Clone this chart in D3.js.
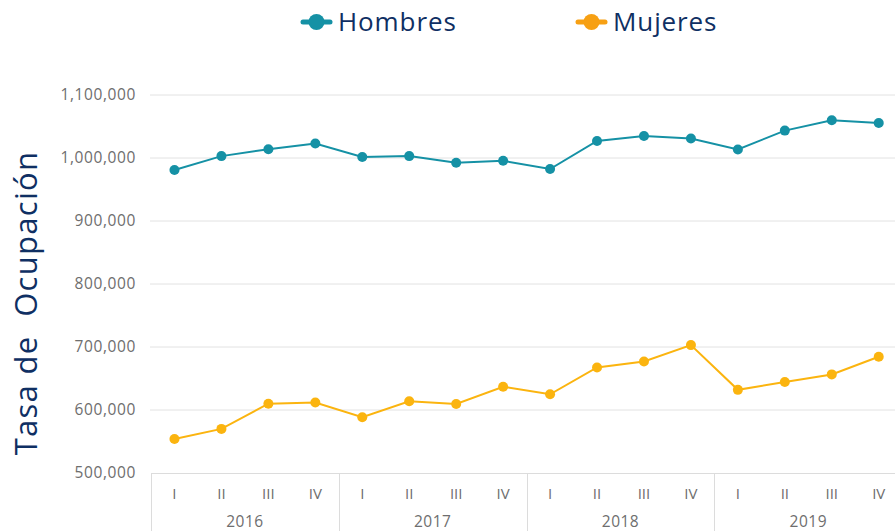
<!DOCTYPE html>
<html>
<head>
  <script src="https://d3js.org/d3.v7.min.js"></script>
  <style>
    body { margin: 0; background: #fff; }
    text { font-family: "Open Sans", sans-serif; }
  </style>
</head>
<body>
  <div id="chart"></div>
  <script>
    var years = ["2016", "2017", "2018", "2019"];
    var quarters = ["I", "II", "III", "IV"];
    var hombres = [981000, 1003000, 1014000, 1023000, 1001500, 1003000, 992500, 995500,
                   982500, 1027000, 1035000, 1031000, 1013500, 1043500, 1060000, 1055500];
    var mujeres = [554000, 570000, 610000, 612000, 588500, 614000, 609500, 637000,
                   625000, 667500, 677000, 703000, 632000, 644500, 656500, 684500];
    var yTicks = [500000, 600000, 700000, 800000, 900000, 1000000, 1100000];

    var colH = "#1591a5", colM = "#fbb40f", colMLegend = "#f7a013", navy = "#0f2f63";
    var grey = "#6e6e6e";

    // one entry per quarter
    var cats = [];
    years.forEach(function (y) {
      quarters.forEach(function (q) { cats.push(y + "-" + q); });
    });

    var width = 895, height = 531;
    var svg = d3.select("#chart").append("svg")
      .attr("width", width).attr("height", height);

    var left = 151, bandW = 46.95;
    var x = d3.scaleBand()
      .domain(cats)
      .range([left, left + bandW * cats.length]);

    var y = d3.scaleLinear()
      .domain([500000, 1100000])
      .range([473, 95]);

    // gridlines
    svg.append("g")
      .selectAll("line")
      .data(yTicks.slice(1))
      .enter().append("line")
      .attr("x1", left - 1).attr("x2", width)
      .attr("y1", function (d) { return y(d); })
      .attr("y2", function (d) { return y(d); })
      .attr("stroke", "#e2e2e2")
      .attr("stroke-width", 1);

    // y axis labels
    svg.append("g")
      .selectAll("text")
      .data(yTicks)
      .enter().append("text")
      .attr("x", 136)
      .attr("y", function (d) { return y(d) + 5; })
      .attr("text-anchor", "end")
      .attr("fill", grey)
      .style("font-size", "15.5px")
      .style("letter-spacing", "0.6px")
      .text(d3.format(","));

    // y title
    svg.append("text")
      .attr("transform", "translate(37," + 303 + ") rotate(-90)")
      .attr("text-anchor", "middle")
      .attr("fill", navy)
      .style("font-size", "31px")
      .style("letter-spacing", "1.3px")
      .style("white-space", "pre")
      .attr("xml:space", "preserve")
      .text("Tasa de  Ocupación");

    // x axis box
    var xa = svg.append("g");
    xa.append("line")
      .attr("x1", left).attr("x2", width)
      .attr("y1", y(500000) + 0.5).attr("y2", y(500000) + 0.5)
      .attr("stroke", "#dcdcdc");
    xa.selectAll("line.sep")
      .data(years)
      .enter().append("line")
      .attr("class", "sep")
      .attr("x1", function (d) { return Math.round(x(d + "-I")) + 0.5; })
      .attr("x2", function (d) { return Math.round(x(d + "-I")) + 0.5; })
      .attr("y1", y(500000)).attr("y2", height)
      .attr("stroke", "#dcdcdc");
    xa.selectAll("text.q")
      .data(cats)
      .enter().append("text")
      .attr("class", "q")
      .attr("x", function (d) { return x(d) + x.bandwidth() / 2; })
      .attr("y", 499)
      .attr("text-anchor", "middle")
      .attr("fill", grey)
      .style("font-size", "15px")
      .text(function (d) { return d.split("-")[1]; });
    xa.selectAll("text.yr")
      .data(years)
      .enter().append("text")
      .attr("class", "yr")
      .attr("x", function (d) { return x(d + "-I") + x.bandwidth() * 2; })
      .attr("y", 527)
      .attr("text-anchor", "middle")
      .attr("fill", grey)
      .style("font-size", "15.5px")
      .style("letter-spacing", "0.5px")
      .text(function (d) { return d; });

    function drawSeries(vals, color) {
      var pts = vals.map(function (v, i) { return { c: cats[i], v: v }; });
      var line = d3.line()
        .x(function (d) { return x(d.c) + x.bandwidth() / 2; })
        .y(function (d) { return y(d.v); });
      svg.append("path")
        .datum(pts)
        .attr("fill", "none")
        .attr("stroke", color)
        .attr("stroke-width", 2)
        .attr("d", line);
      svg.append("g")
        .selectAll("circle")
        .data(pts)
        .enter().append("circle")
        .attr("cx", function (d) { return x(d.c) + x.bandwidth() / 2; })
        .attr("cy", function (d) { return y(d.v); })
        .attr("r", 5)
        .attr("fill", color);
    }
    drawSeries(hombres, colH);
    drawSeries(mujeres, colM);

    // legend
    var legend = [
      { name: "Hombres", color: colH, x: 301 },
      { name: "Mujeres", color: colMLegend, x: 576 }
    ];
    var lg = svg.append("g").selectAll("g")
      .data(legend)
      .enter().append("g")
      .attr("transform", function (d) { return "translate(" + d.x + ",22)"; });
    lg.append("line")
      .attr("x1", 2).attr("x2", 29)
      .attr("stroke", function (d) { return d.color; })
      .attr("stroke-width", 5)
      .attr("stroke-linecap", "round");
    lg.append("circle")
      .attr("cx", 15.5).attr("r", 8)
      .attr("fill", function (d) { return d.color; });
    lg.append("text")
      .attr("x", 37).attr("y", 9)
      .attr("fill", navy)
      .style("font-size", "26px")
      .style("letter-spacing", "0.9px")
      .text(function (d) { return d.name; });
  </script>
</body>
</html>
